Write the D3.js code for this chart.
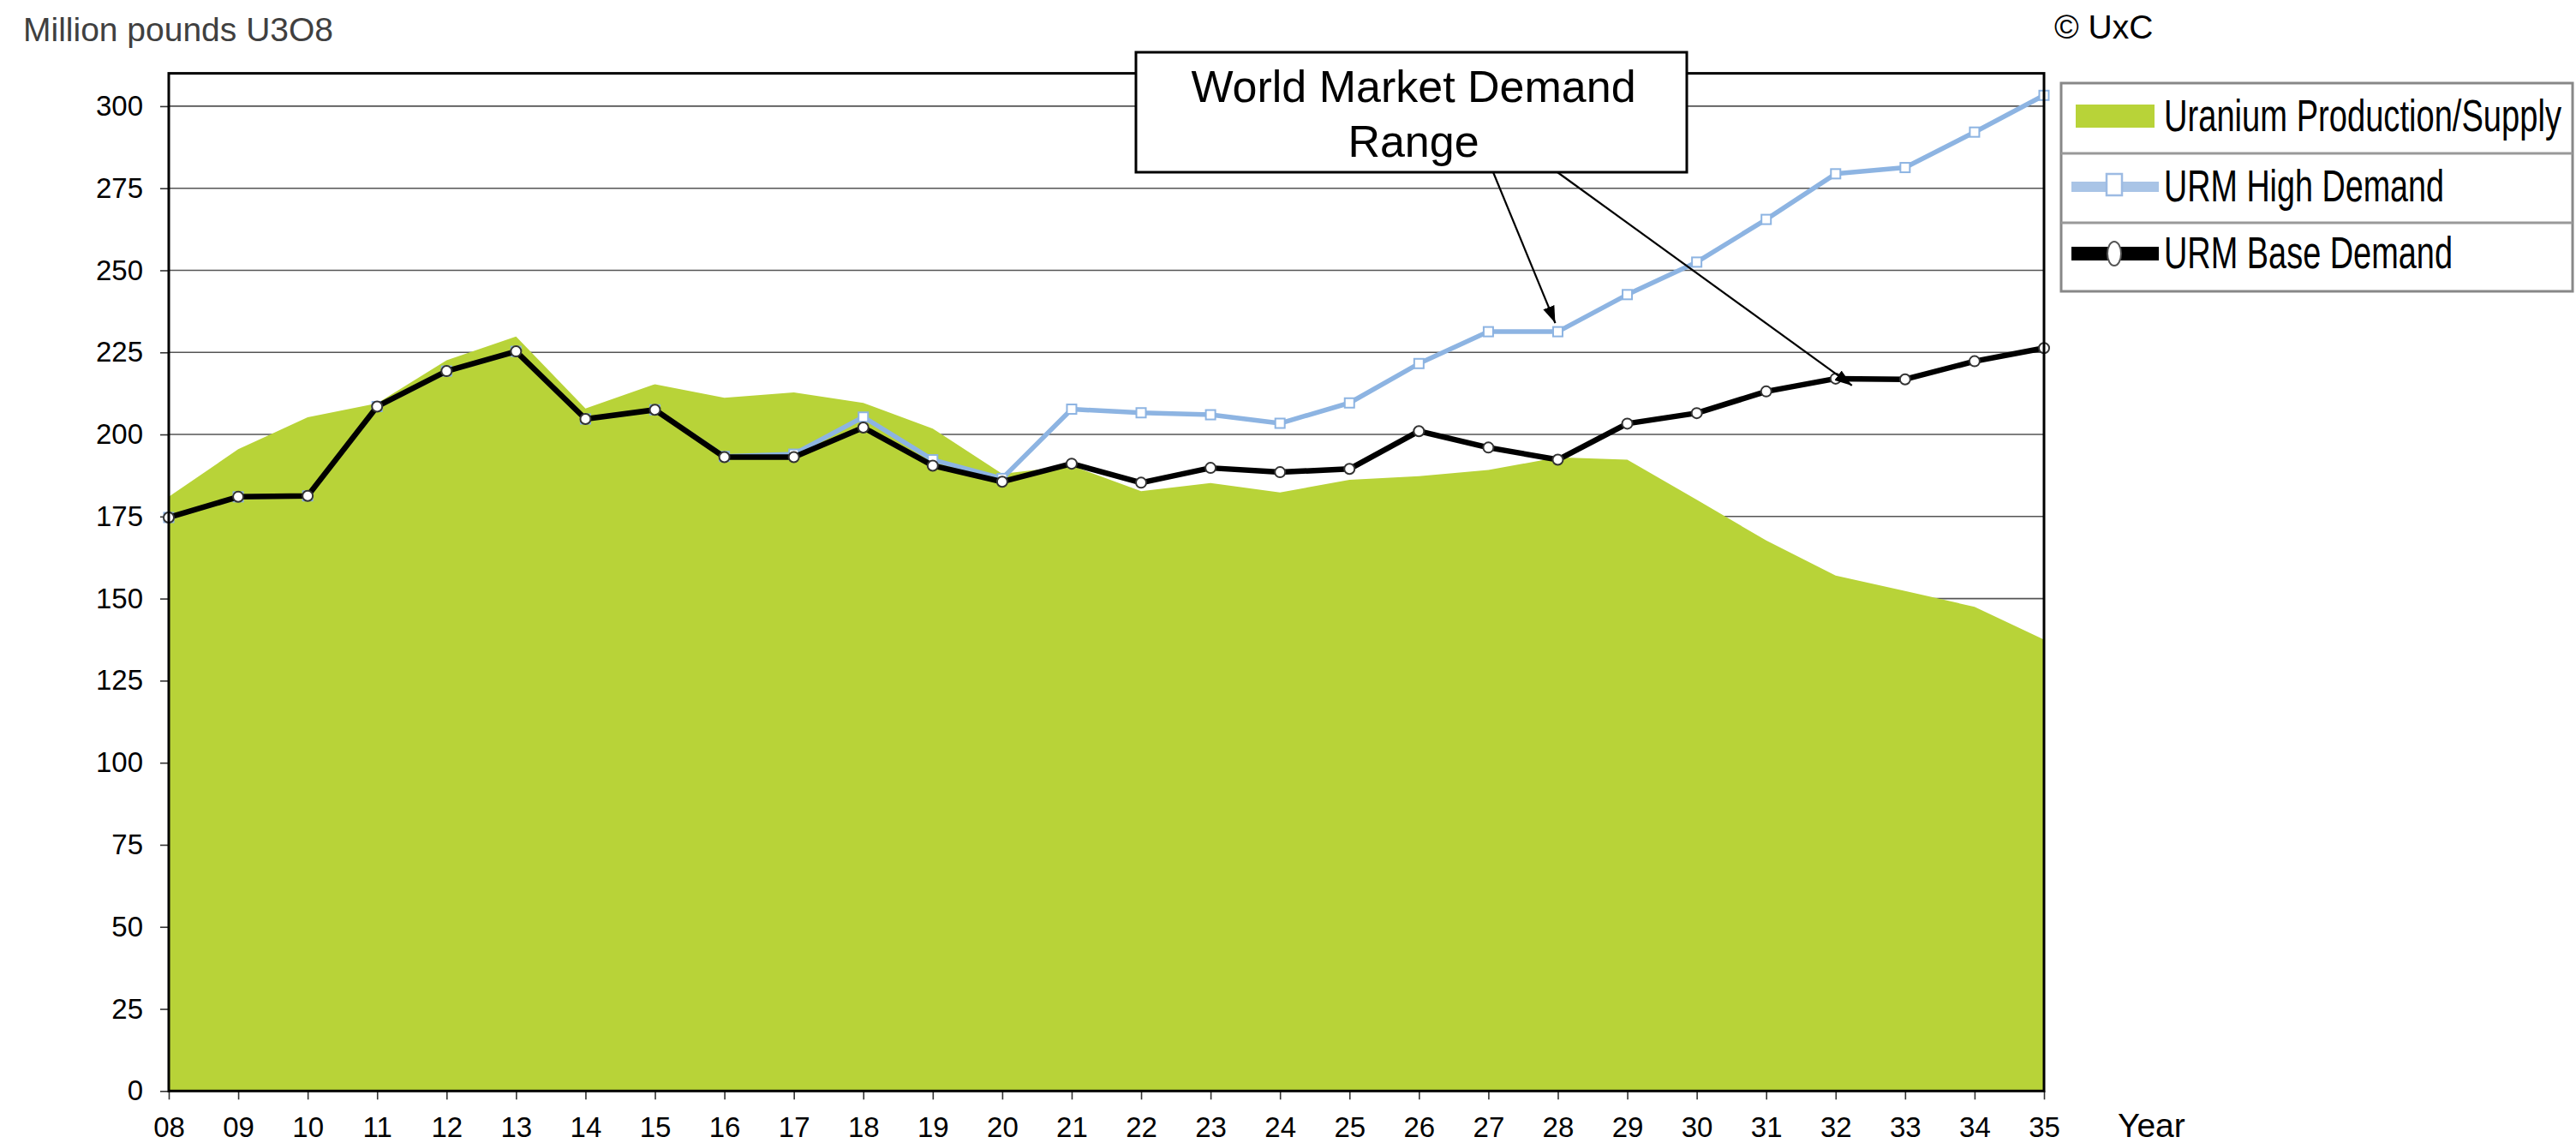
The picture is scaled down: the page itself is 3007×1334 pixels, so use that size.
<!DOCTYPE html>
<html>
<head>
<meta charset="utf-8">
<script src="https://cdn.jsdelivr.net/npm/d3@7"></script>
<style>
  html, body { margin: 0; padding: 0; background: #ffffff; }
  svg { display: block; }
  text { font-family: "Liberation Sans", Arial, Helvetica, sans-serif; }
</style>
</head>
<body>
<svg id="chart" width="3007" height="1334"></svg>
<script>
// ---- Data ----
const years = ["08","09","10","11","12","13","14","15","16","17","18","19","20","21",
               "22","23","24","25","26","27","28","29","30","31","32","33","34","35"];
const supply = [181, 195.5, 205.2, 209.5, 222.6, 229.8, 207.9, 215.3, 211.2, 212.8, 209.6, 201.8, 188, 190.5,
                182.7, 185.2, 182.3, 186.2, 187.3, 189.2, 193.0, 192.3, 180.1, 167.7, 157.0, 152.3, 147.5, 137.5];
const highDemand = [174.7, 181.0, 181.3, 208.5, 219.3, 225.3, 204.7, 207.5, 193.3, 194.0, 205.3, 192.3, 186.6, 207.7,
                    206.6, 206.0, 203.4, 209.6, 221.6, 231.3, 231.3, 242.6, 252.5, 265.5, 279.4, 281.3, 292.1, 303.3];
const baseDemand = [174.7, 181.0, 181.3, 208.5, 219.3, 225.3, 204.7, 207.5, 193.1, 193.1, 202.1, 190.5, 185.6, 191.1,
                    185.3, 189.8, 188.5, 189.5, 201.0, 196.0, 192.3, 203.3, 206.5, 213.1, 217.0, 216.8, 222.3, 226.3];
const yTicks = [0, 25, 50, 75, 100, 125, 150, 175, 200, 225, 250, 275, 300];
const legendLabels = ["Uranium Production/Supply", "URM High Demand", "URM Base Demand"];
const yAxisTitle = "Million pounds U3O8";
const xAxisTitle = "Year";
const copyrightText = "\u00A9 UxC";
const annotationLines = ["World Market Demand", "Range"];

(function () {
// ---- Styles ----
const GREEN = "#b8d338";
const BLUE = "#8db4e2";
const BLUE_LEGEND = "#a9c4e6";

const svg = d3.select("#chart");
const pLeft = 197, pRight = 2386, pTop = 85.6, pBottom = 1273.3;

const x = d3.scalePoint().domain(years).range([pLeft, pRight]);
const y = d3.scaleLinear().domain([0, 310]).range([pBottom, pTop]);

// Gridlines
svg.append("g")
  .selectAll("line")
  .data(yTicks.filter(d => d > 0))
  .join("line")
  .attr("x1", pLeft).attr("x2", pRight)
  .attr("y1", d => y(d)).attr("y2", d => y(d))
  .attr("stroke", "#555").attr("stroke-width", 1.6);

// Supply area
const area = d3.area()
  .x((d, i) => x(years[i]))
  .y0(y(0))
  .y1(d => y(d));
svg.append("path")
  .datum(supply)
  .attr("d", area)
  .attr("fill", GREEN);

// Y axis
const yAxis = svg.append("g")
  .attr("transform", `translate(${pLeft},0)`)
  .call(d3.axisLeft(y).tickValues(yTicks).tickSize(10).tickPadding(20).tickFormat(d3.format("d")));
yAxis.select(".domain").remove();
yAxis.selectAll(".tick line").attr("stroke", "#333").attr("stroke-width", 1.6);
yAxis.selectAll("text").attr("font-size", 33).attr("fill", "#000")
  .style("font-family", '"Liberation Sans", Arial, sans-serif');

// X axis
const xAxis = svg.append("g")
  .attr("transform", `translate(0,${pBottom})`)
  .call(d3.axisBottom(x).tickSize(10).tickPadding(0));
xAxis.select(".domain").remove();
xAxis.selectAll(".tick line").attr("stroke", "#333").attr("stroke-width", 1.6);
xAxis.selectAll("text").attr("font-size", 33).attr("fill", "#000")
  .attr("y", 1327 - pBottom).attr("dy", 0)
  .style("font-family", '"Liberation Sans", Arial, sans-serif');

// Lines
const line = d3.line().x((d, i) => x(years[i])).y(d => y(d));

svg.append("path").datum(highDemand).attr("d", line)
  .attr("fill", "none").attr("stroke", BLUE).attr("stroke-width", 5.5)
  .attr("stroke-linejoin", "round");
svg.append("g").selectAll("rect")
  .data(highDemand).join("rect")
  .attr("x", (d, i) => x(years[i]) - 5.5).attr("y", d => y(d) - 5.5)
  .attr("width", 11).attr("height", 11)
  .attr("fill", "#fff").attr("stroke", BLUE).attr("stroke-width", 2);

svg.append("path").datum(baseDemand).attr("d", line)
  .attr("fill", "none").attr("stroke", "#000").attr("stroke-width", 6.5)
  .attr("stroke-linejoin", "round");
svg.append("g").selectAll("circle")
  .data(baseDemand).join("circle")
  .attr("cx", (d, i) => x(years[i])).attr("cy", d => y(d))
  .attr("r", 6)
  .attr("fill", "#fff").attr("stroke", "#333").attr("stroke-width", 2);

// Plot frame
svg.append("rect")
  .attr("x", pLeft).attr("y", pTop)
  .attr("width", pRight - pLeft).attr("height", pBottom - pTop)
  .attr("fill", "none").attr("stroke", "#000").attr("stroke-width", 3);

// Titles
svg.append("text").attr("x", 27).attr("y", 48).attr("font-size", 39)
  .attr("fill", "#404040").text(yAxisTitle);
svg.append("text").attr("x", 2472).attr("y", 1327).attr("font-size", 39)
  .attr("fill", "#000").text(xAxisTitle);
svg.append("text").attr("x", 2398).attr("y", 45).attr("font-size", 39)
  .attr("fill", "#000").text(copyrightText);

// Annotation with arrows
const defs = svg.append("defs");
defs.append("marker")
  .attr("id", "arrowhead")
  .attr("viewBox", "0 0 20 14")
  .attr("refX", 20).attr("refY", 7)
  .attr("markerWidth", 20).attr("markerHeight", 14)
  .attr("markerUnits", "userSpaceOnUse")
  .attr("orient", "auto")
  .append("path").attr("d", "M0,0 L20,7 L0,14 Z").attr("fill", "#000");

const i28 = years.indexOf("28"), i32 = years.indexOf("32");
svg.append("line")
  .attr("x1", 1743).attr("y1", 201)
  .attr("x2", x(years[i28]) - 3).attr("y2", y(highDemand[i28]) - 10)
  .attr("stroke", "#000").attr("stroke-width", 2.2)
  .attr("marker-end", "url(#arrowhead)");
svg.append("line")
  .attr("x1", 1818).attr("y1", 201)
  .attr("x2", x(years[i32]) + 19).attr("y2", y(baseDemand[i32]) + 8)
  .attr("stroke", "#000").attr("stroke-width", 2.2)
  .attr("marker-end", "url(#arrowhead)");

svg.append("rect")
  .attr("x", 1326).attr("y", 61).attr("width", 643).attr("height", 140)
  .attr("fill", "#fff").attr("stroke", "#000").attr("stroke-width", 3);
svg.append("g").selectAll("text")
  .data(annotationLines).join("text")
  .attr("x", 1650).attr("y", (d, i) => 119 + i * 64)
  .attr("text-anchor", "middle").attr("font-size", 52).attr("fill", "#000")
  .text(d => d);

// Legend
const lg = svg.append("g");
lg.append("rect")
  .attr("x", 2406).attr("y", 97).attr("width", 597).attr("height", 243)
  .attr("fill", "#fff").attr("stroke", "#888").attr("stroke-width", 3);
[179, 260].forEach(yy => {
  lg.append("line").attr("x1", 2406).attr("x2", 3003).attr("y1", yy).attr("y2", yy)
    .attr("stroke", "#999").attr("stroke-width", 3);
});
lg.append("rect").attr("x", 2423).attr("y", 122).attr("width", 92).attr("height", 27)
  .attr("fill", GREEN);
lg.append("line").attr("x1", 2418).attr("x2", 2520).attr("y1", 218).attr("y2", 218)
  .attr("stroke", BLUE_LEGEND).attr("stroke-width", 12);
lg.append("rect").attr("x", 2459).attr("y", 203).attr("width", 18).attr("height", 25)
  .attr("fill", "#fff").attr("stroke", "#9dbbe3").attr("stroke-width", 2.5);
lg.append("line").attr("x1", 2418).attr("x2", 2520).attr("y1", 296).attr("y2", 296)
  .attr("stroke", "#000").attr("stroke-width", 16);
lg.append("ellipse").attr("cx", 2468).attr("cy", 296).attr("rx", 8).attr("ry", 14)
  .attr("fill", "#fff").attr("stroke", "#555").attr("stroke-width", 2);

// Condensed legend labels: natural-width font scaled vertically
const legendBaselines = [153, 235, 313];
const legendWidths = [464, 327, 337];
lg.selectAll("text.lab")
  .data(legendLabels).join("text")
  .attr("class", "lab")
  .attr("transform", (d, i) => `translate(2526,${legendBaselines[i]}) scale(1,1.36)`)
  .attr("x", 0).attr("y", 0)
  .attr("font-size", 37.5).attr("fill", "#000")
  .attr("textLength", (d, i) => legendWidths[i])
  .attr("lengthAdjust", "spacingAndGlyphs")
  .text(d => d);
})();
</script>
</body>
</html>
